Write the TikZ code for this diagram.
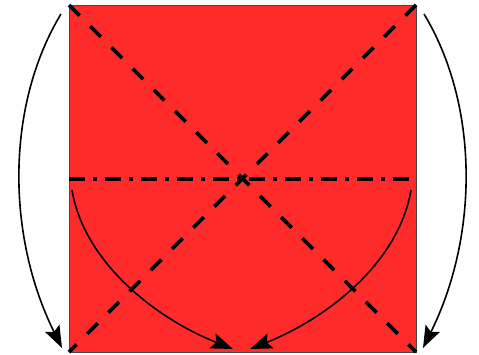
\documentclass[tikz,border=0pt]{standalone}
\usetikzlibrary{arrows.meta}
\definecolor{paper}{RGB}{255,43,43}
\definecolor{edge}{RGB}{70,70,70}
\tikzset{
  fold/.style={line width=3.6pt, dash pattern=on 15pt off 15pt},
  crease/.style={line width=3.6pt, dash pattern=on 16pt off 8pt on 4pt off 8pt},
  move/.style={line width=1.6pt, -{Stealth[length=22pt,width=16pt,inset=4pt]}}
}
\begin{document}
\begin{tikzpicture}[x=1pt,y=-1pt]
\useasboundingbox (0,0) rectangle (479,354);
\coordinate (tl) at (69,5);
\coordinate (tr) at (416,5);
\coordinate (bl) at (69,352);
\coordinate (br) at (416,352);
\coordinate (ml) at (69,179);
\coordinate (mr) at (416,179);
\fill[paper] (tl) rectangle (br);
\draw[edge, line width=0.8pt] (tl) rectangle (br);
\draw[fold] (tl) -- (br);
\draw[fold] (tr) -- (bl);
\draw[crease] (ml) -- (mr);
% outer arrows
\coordinate (ls) at (61,14);
\coordinate (le) at (62,348);
\coordinate (rs) at (424,14);
\coordinate (re) at (423,348);
\draw[move] (ls) .. controls (6,105) and (6,235) .. (le);
\draw[move] (rs) .. controls (479,105) and (479,235) .. (re);
% inner arrows
\coordinate (ils) at (72,190);
\coordinate (ile) at (233,349);
\coordinate (irs) at (411,190);
\coordinate (ire) at (250,349);
\draw[move] (ils) .. controls (84,262) and (155,318) .. (ile);
\draw[move] (irs) .. controls (399,262) and (328,318) .. (ire);
\end{tikzpicture}
\end{document}
